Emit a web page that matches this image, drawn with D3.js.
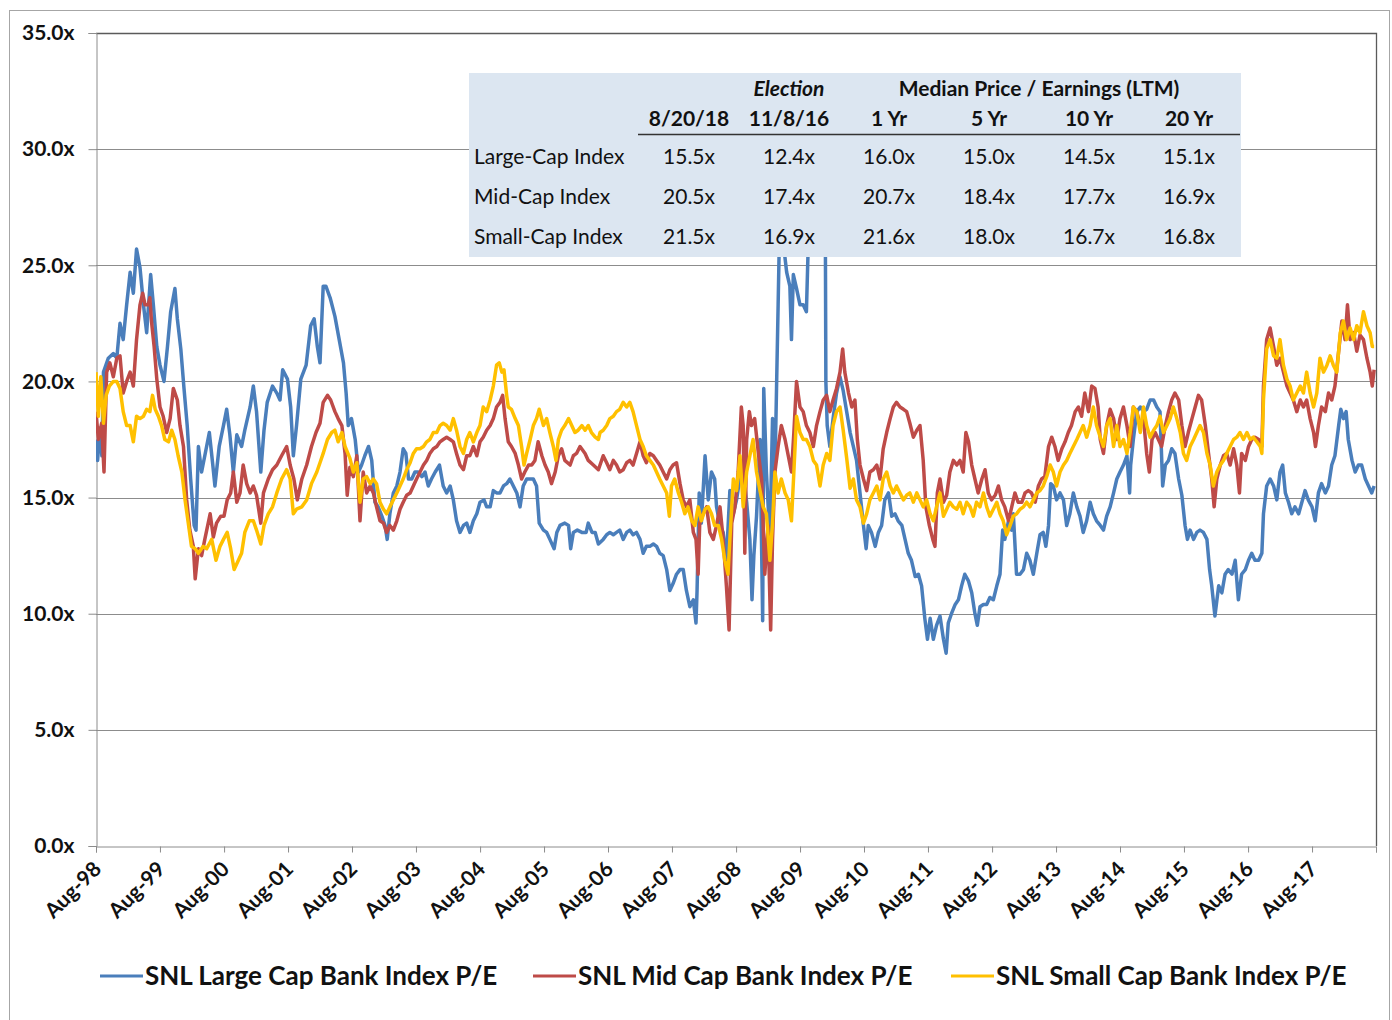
<!DOCTYPE html>
<html>
<head>
<meta charset="utf-8">
<script src="https://cdn.jsdelivr.net/npm/d3@7/dist/d3.min.js"></script>
<style>
  body { margin: 0; background: #fff; }
  svg { display: block; }
</style>
</head>
<body>
<svg id="chart" width="1392" height="1020"></svg>
<script>
// ---- Data: trailing P/E by index, as [months since Aug-1998, P/E] ----
const seriesNames = ["SNL Large Cap Bank Index P/E", "SNL Mid Cap Bank Index P/E", "SNL Small Cap Bank Index P/E"];

const largeCapPE = [[0,17.5],[0.3,16.6],[0.75,18.0],[1.1,16.8],[1.4,20.4],[2.3,21.0],[3.25,21.2],[3.9,21.0],[4.5,22.5],[5.1,21.8],[5.75,23.3],[6.4,24.7],[7.0,23.8],[7.6,25.7],[8.25,24.9],[8.9,23.3],[9.5,22.1],[10.25,24.6],[10.75,23.3],[11.4,21.5],[12.0,20.7],[12.75,20.0],[13.4,21.5],[14.0,23.0],[14.8,24.0],[15.25,22.7],[15.9,21.4],[16.5,19.7],[17.1,18.1],[17.75,15.8],[18.4,13.8],[18.75,13.6],[19.2,17.2],[19.8,16.1],[20.4,16.8],[21.25,17.8],[21.9,16.4],[22.3,15.5],[23.1,17.2],[23.9,18.1],[24.5,18.8],[25.1,17.7],[25.75,16.1],[26.4,17.7],[27.3,17.2],[27.9,17.9],[28.9,18.9],[29.5,19.8],[30.1,18.7],[30.9,16.1],[31.5,17.9],[32.1,19.1],[33.1,19.8],[33.9,19.5],[34.5,19.2],[35.0,20.5],[35.9,20.1],[36.5,18.9],[37.0,16.8],[37.6,18.1],[38.4,20.1],[39.4,20.7],[40.25,22.4],[40.9,22.7],[41.5,21.5],[42.0,20.8],[42.6,24.1],[43.1,24.1],[43.9,23.6],[44.8,22.8],[45.6,21.8],[46.4,20.8],[46.9,19.5],[47.3,18.1],[47.9,18.4],[48.6,17.5],[49.2,16.1],[49.8,16.4],[50.4,16.8],[51.1,17.2],[51.7,16.6],[52.3,14.8],[52.9,14.6],[53.6,14.2],[54.2,13.8],[54.6,13.2],[55.1,14.3],[55.75,15.2],[56.4,15.5],[57.0,16.1],[57.6,17.1],[58.1,16.9],[58.6,15.8],[59.2,15.8],[59.8,16.1],[60.4,16.1],[61.1,15.9],[61.7,16.1],[62.3,15.5],[62.9,15.8],[63.6,16.1],[64.4,16.4],[65.1,15.5],[65.75,15.2],[66.4,15.5],[67.0,14.9],[67.6,14.0],[68.25,13.5],[68.9,13.8],[69.5,13.9],[70.1,13.5],[70.75,14.0],[71.4,14.3],[72.0,14.8],[72.75,14.9],[73.25,14.6],[73.9,14.6],[74.5,15.3],[75.1,15.2],[75.75,15.2],[76.4,15.5],[77.0,15.6],[77.6,15.8],[78.25,15.5],[78.9,15.2],[79.5,14.6],[80.1,15.5],[80.75,15.8],[81.4,15.8],[82.0,15.8],[82.6,15.5],[83.1,13.9],[83.9,13.6],[84.5,13.5],[85.1,13.2],[85.9,12.8],[86.4,13.5],[87.0,13.8],[87.9,13.9],[88.6,13.8],[89.0,12.8],[89.5,13.5],[90.25,13.6],[91.1,13.5],[91.9,13.5],[92.3,13.9],[93.0,13.5],[93.6,13.5],[94.2,13.0],[95.1,13.2],[95.75,13.4],[96.35,13.5],[97.0,13.4],[97.6,13.5],[98.2,13.6],[98.85,13.2],[99.5,13.5],[100.1,13.6],[100.7,13.4],[101.35,13.5],[102.0,13.2],[102.6,12.6],[103.2,12.9],[103.85,12.9],[104.5,13.0],[105.1,12.9],[105.7,12.6],[106.35,12.5],[107.0,11.9],[107.6,11.0],[108.2,11.3],[108.85,11.7],[109.5,11.9],[110.1,11.9],[110.7,11.0],[111.35,10.3],[112.0,10.6],[112.5,9.6],[112.7,11.0],[113.1,15.2],[113.5,13.9],[114.2,16.8],[114.8,14.9],[115.4,16.1],[116.0,15.8],[116.35,14.6],[117.0,13.8],[117.6,13.5],[118.2,12.3],[118.85,15.3],[119.5,14.3],[120.1,14.9],[120.7,15.8],[121.35,16.1],[122.0,14.8],[122.6,13.2],[123.0,10.6],[123.35,12.5],[123.85,14.2],[124.5,17.5],[125.0,9.7],[125.2,19.7],[125.7,16.1],[126.35,13.2],[126.85,18.4],[127.3,16.1],[127.6,19.7],[127.9,23.3],[128.2,27.0],[128.85,26.0],[129.5,24.7],[130.1,24.1],[130.4,21.8],[130.75,24.6],[131.35,24.0],[132.0,23.3],[132.6,23.3],[133.2,23.0],[133.5,25.5],[133.85,28.0],[134.5,31.0],[135.75,32.0],[136.7,30.0],[136.85,20.0],[137.1,18.1],[137.6,17.2],[138.2,18.4],[138.85,19.5],[139.5,20.2],[140.1,19.6],[140.75,18.7],[141.4,17.8],[142.0,17.2],[142.6,16.6],[143.25,15.2],[143.9,13.8],[144.4,12.8],[144.8,13.8],[145.4,13.5],[146.1,12.9],[146.7,13.5],[147.3,13.8],[147.9,14.9],[148.6,15.2],[149.2,14.2],[149.8,14.3],[150.4,14.0],[151.1,13.8],[151.7,13.2],[152.3,12.6],[152.9,12.3],[153.6,11.6],[154.2,11.7],[154.8,11.2],[155.4,9.8],[155.9,8.9],[156.4,9.8],[157.0,8.9],[157.6,9.5],[158.25,9.9],[158.9,8.9],[159.4,8.3],[159.8,9.6],[160.4,10.0],[161.1,10.4],[161.7,10.6],[162.3,11.2],[162.9,11.7],[163.6,11.4],[164.2,10.9],[164.8,10.0],[165.25,9.5],[165.75,10.3],[166.4,10.4],[167.0,10.4],[167.6,10.7],[168.25,10.6],[168.9,11.2],[169.5,11.7],[170.0,13.6],[170.4,13.2],[171.1,14.0],[171.7,13.6],[172.0,14.3],[172.6,11.7],[173.25,11.7],[173.9,11.9],[174.5,12.6],[175.1,12.3],[175.75,11.7],[176.4,12.6],[177.0,13.4],[177.6,13.5],[178.1,12.9],[178.6,13.8],[179.0,15.6],[179.5,15.5],[180.1,14.9],[180.75,15.2],[181.4,14.9],[182.0,13.8],[182.6,14.3],[183.25,15.2],[183.9,14.6],[184.5,14.2],[185.1,13.5],[185.75,14.0],[186.4,14.8],[187.0,14.3],[187.6,14.0],[188.3,13.8],[188.9,13.6],[189.5,14.2],[190.15,14.6],[190.8,15.2],[191.4,15.8],[192.0,16.1],[192.65,16.4],[193.3,16.8],[193.8,15.2],[194.0,16.4],[194.5,17.5],[195.15,18.7],[195.8,18.9],[196.4,18.7],[197.0,18.8],[197.65,19.2],[198.3,19.2],[198.9,18.9],[199.5,18.7],[200.0,15.5],[200.5,16.4],[201.1,16.6],[201.7,17.1],[202.3,16.9],[203.0,15.8],[203.6,15.1],[204.2,13.8],[204.65,13.2],[205.15,13.6],[205.8,13.2],[206.4,13.5],[207.0,13.6],[207.65,13.5],[208.3,13.2],[208.8,11.9],[209.2,11.2],[209.8,9.9],[210.5,11.2],[211.1,10.9],[211.7,11.7],[212.3,11.9],[213.0,11.7],[213.6,12.3],[214.2,10.6],[214.8,11.7],[215.5,11.9],[216.1,12.3],[216.7,12.6],[217.3,12.3],[218.0,12.3],[218.6,12.6],[218.9,14.3],[219.5,15.5],[220.15,15.8],[220.8,15.5],[221.4,14.9],[222.0,16.1],[222.5,16.4],[223.0,15.2],[223.6,14.8],[224.2,14.3],[224.8,14.6],[225.5,14.3],[226.1,14.8],[226.7,15.3],[227.3,14.9],[228.0,14.6],[228.6,14.0],[229.2,15.2],[229.8,15.6],[230.5,15.2],[231.1,15.5],[231.7,16.4],[232.3,16.8],[233.0,18.1],[233.4,18.8],[233.9,18.4],[234.4,18.7],[234.8,17.5],[235.5,16.6],[236.1,16.1],[236.7,16.4],[237.3,16.4],[238.0,15.8],[238.6,15.5],[239.2,15.2],[239.65,15.5]];

const midCapPE = [[0,18.7],[0.44,17.5],[1.06,18.2],[1.5,16.1],[2.0,20.4],[2.6,20.8],[3.25,20.2],[3.9,21.0],[4.5,21.1],[5.1,19.5],[5.75,20.0],[6.4,20.4],[7.0,19.8],[7.6,21.8],[8.25,23.3],[8.75,23.8],[9.2,23.3],[9.8,23.3],[10.1,23.6],[10.4,22.6],[10.9,21.5],[11.4,20.1],[12.0,18.9],[12.6,18.5],[13.25,17.8],[13.9,18.4],[14.5,19.7],[15.25,19.2],[15.75,18.1],[16.4,17.2],[17.0,14.9],[17.6,13.6],[18.25,12.9],[18.6,11.5],[19.2,12.8],[19.8,12.5],[20.4,13.2],[21.4,14.3],[22.0,13.3],[22.6,13.9],[23.4,14.2],[24.0,14.2],[24.6,14.9],[25.25,15.2],[25.75,16.1],[26.4,14.8],[27.0,15.2],[27.6,16.4],[28.25,15.6],[28.9,15.2],[29.5,15.5],[30.1,15.1],[30.9,13.9],[31.4,15.2],[32.3,15.8],[33.1,16.2],[33.9,16.4],[34.8,16.8],[35.75,17.2],[36.4,16.4],[37.1,15.8],[37.75,14.9],[38.6,15.8],[39.5,16.4],[40.4,17.2],[41.25,17.8],[42.0,18.2],[42.6,19.1],[43.4,19.4],[44.0,19.2],[44.8,18.7],[45.4,18.4],[46.1,18.1],[46.7,16.9],[47.1,15.1],[47.6,16.3],[48.25,15.9],[48.9,16.8],[49.5,14.0],[50.1,16.1],[50.75,15.2],[51.4,15.5],[52.0,15.2],[52.6,14.6],[53.25,14.0],[53.9,13.9],[54.5,13.5],[55.1,13.8],[55.75,13.6],[56.4,14.0],[57.0,14.5],[57.6,14.8],[58.25,15.1],[58.9,15.2],[59.5,15.5],[60.1,15.8],[60.75,16.1],[61.4,16.4],[62.0,16.6],[62.6,16.9],[63.25,17.1],[63.9,17.2],[64.5,17.4],[65.1,17.5],[65.75,17.6],[66.4,17.5],[67.0,17.4],[67.6,16.9],[68.25,16.4],[68.9,16.2],[69.5,16.8],[70.1,16.8],[70.75,17.2],[71.4,16.8],[72.0,17.4],[72.6,17.6],[73.25,17.9],[73.9,18.1],[74.5,18.4],[75.1,18.9],[75.75,19.1],[76.25,19.4],[76.7,18.4],[77.3,17.4],[77.9,17.2],[78.6,16.9],[79.2,16.4],[79.8,15.8],[80.4,16.1],[81.1,16.4],[81.7,16.4],[82.3,16.6],[82.9,17.4],[83.6,16.8],[84.2,16.4],[84.8,16.1],[85.4,15.6],[86.1,16.1],[86.7,16.8],[87.3,17.1],[87.9,16.6],[88.9,16.4],[89.5,16.8],[90.1,16.9],[90.75,17.2],[91.7,16.9],[92.3,16.6],[93.25,16.4],[94.2,16.2],[95.1,16.8],[95.75,16.5],[96.35,16.2],[97.0,16.6],[97.6,16.4],[98.2,16.1],[98.85,16.2],[99.5,16.5],[100.1,16.6],[100.7,16.4],[101.35,16.9],[102.0,17.4],[102.6,16.8],[103.2,16.5],[103.85,16.9],[104.5,16.8],[105.1,16.6],[105.7,16.4],[106.35,16.1],[107.0,15.8],[107.6,16.2],[108.2,16.4],[108.85,16.5],[109.5,15.6],[110.1,14.9],[110.7,14.6],[111.35,14.9],[112.0,13.5],[112.5,13.2],[112.9,11.7],[113.2,13.9],[113.85,14.3],[114.5,14.6],[115.1,13.5],[115.75,13.2],[116.35,13.8],[117.0,14.6],[117.6,13.2],[118.2,11.2],[118.7,9.3],[119.2,13.9],[119.8,14.6],[120.4,16.1],[121.0,18.9],[121.35,18.1],[121.65,12.6],[122.0,17.5],[122.5,18.7],[122.9,18.1],[123.5,18.4],[124.2,16.9],[124.8,15.8],[125.4,11.7],[126.0,13.8],[126.5,9.3],[126.85,13.2],[127.3,16.1],[127.9,17.2],[128.5,18.1],[129.2,17.5],[129.8,16.8],[130.4,16.1],[130.85,17.8],[131.35,20.0],[132.0,18.9],[132.6,18.7],[133.2,18.1],[133.85,17.8],[134.5,17.2],[135.1,18.1],[135.75,18.7],[136.35,19.2],[137.0,19.4],[137.6,18.7],[138.2,19.2],[138.85,19.7],[139.5,20.4],[140.0,21.4],[140.4,20.4],[141.1,19.5],[141.7,18.9],[142.3,19.2],[142.75,17.5],[143.25,16.4],[143.9,15.8],[144.5,15.3],[145.1,16.1],[145.75,16.2],[146.4,16.4],[147.0,15.8],[147.6,17.1],[148.25,17.8],[148.9,18.4],[149.5,18.9],[150.1,19.1],[150.75,18.9],[151.4,18.8],[152.0,18.7],[152.6,18.2],[153.25,17.6],[153.9,17.9],[154.5,18.1],[155.1,16.6],[155.6,14.6],[156.25,13.8],[156.9,13.2],[157.3,12.9],[157.75,15.2],[158.25,15.8],[158.9,14.8],[159.5,15.1],[160.1,16.1],[160.75,16.6],[161.4,16.4],[162.0,16.6],[162.6,16.1],[163.1,17.8],[163.6,17.4],[164.2,16.4],[164.8,15.8],[165.4,15.2],[166.1,15.8],[166.7,16.2],[167.3,15.2],[167.9,14.9],[168.6,15.1],[169.2,15.5],[169.8,14.9],[170.4,14.6],[171.1,14.0],[171.7,14.6],[172.3,15.2],[172.9,14.8],[173.6,14.8],[174.2,15.2],[174.8,15.3],[175.4,15.2],[176.1,14.8],[176.7,15.5],[177.3,15.8],[177.9,15.9],[178.6,17.2],[179.2,17.6],[179.8,17.2],[180.4,16.6],[181.1,17.1],[181.7,17.4],[182.3,17.8],[182.9,18.1],[183.6,18.7],[184.2,18.9],[184.8,18.5],[185.4,19.5],[186.1,18.7],[186.7,19.8],[187.3,19.7],[187.9,18.9],[188.3,17.5],[188.9,16.9],[189.5,18.1],[190.15,18.8],[190.8,18.4],[191.4,17.5],[192.0,18.4],[192.65,18.9],[193.3,18.1],[193.9,17.2],[194.5,18.9],[195.15,18.7],[195.8,18.1],[196.4,18.4],[197.0,16.9],[197.5,16.1],[198.0,17.5],[198.6,17.8],[199.2,17.5],[199.8,17.2],[200.5,18.1],[201.1,18.7],[201.7,19.2],[202.3,19.5],[203.0,19.2],[203.6,18.1],[204.2,17.2],[204.8,17.8],[205.5,18.4],[206.1,18.9],[206.7,19.4],[207.3,19.2],[208.0,18.1],[208.6,16.9],[209.2,15.8],[209.65,14.6],[210.15,15.8],[210.8,16.4],[211.4,16.8],[212.0,16.9],[212.65,16.4],[213.3,17.1],[213.9,16.4],[214.4,15.2],[214.8,16.9],[215.5,16.6],[216.1,17.2],[216.7,17.5],[217.3,17.6],[218.0,17.5],[218.6,17.2],[218.9,19.8],[219.5,21.8],[220.15,22.3],[220.8,21.5],[221.4,20.7],[222.0,21.0],[222.65,20.4],[223.3,19.8],[223.9,19.5],[224.5,19.2],[225.15,18.7],[225.8,19.2],[226.4,18.9],[227.0,19.2],[227.65,18.4],[228.3,17.8],[228.65,17.2],[229.2,18.1],[229.8,18.9],[230.5,18.7],[231.1,19.5],[231.7,19.2],[232.3,19.8],[233.0,21.3],[233.6,22.6],[234.2,21.8],[234.65,23.3],[235.15,21.8],[235.8,22.1],[236.4,21.3],[237.0,22.0],[237.65,21.8],[238.3,21.0],[238.9,20.4],[239.3,19.8],[239.65,20.5]];

const smallCapPE = [[0,20.4],[0.44,18.5],[0.9,20.2],[1.4,18.2],[1.9,19.4],[2.5,19.8],[3.25,20.0],[3.9,20.0],[4.5,19.7],[5.1,18.7],[5.75,18.1],[6.4,18.1],[7.0,17.4],[7.6,18.5],[8.25,18.4],[8.9,18.5],[9.5,18.8],[10.1,18.7],[10.6,19.4],[11.1,18.8],[11.7,18.5],[12.3,18.1],[12.9,17.5],[13.6,17.4],[14.2,17.9],[14.8,17.5],[15.4,16.8],[16.1,16.1],[16.7,14.9],[17.3,13.9],[17.9,12.9],[18.6,12.8],[19.2,12.6],[20.1,12.9],[20.75,12.8],[21.7,13.2],[22.5,12.3],[23.25,12.9],[23.9,13.2],[24.6,13.5],[25.25,12.8],[25.9,11.9],[26.7,12.3],[27.3,12.6],[27.9,13.5],[28.75,14.0],[29.5,14.0],[30.1,13.6],[30.9,13.0],[31.5,13.8],[32.3,14.3],[33.1,14.6],[33.9,15.2],[34.8,15.8],[35.75,16.2],[36.4,15.8],[37.0,14.3],[37.6,14.5],[38.6,14.6],[39.5,14.9],[40.4,15.6],[41.4,16.1],[42.0,16.5],[42.6,16.9],[43.4,17.5],[44.2,17.8],[44.8,17.9],[45.4,17.4],[46.1,17.8],[46.7,17.2],[47.6,16.7],[48.25,16.1],[48.9,16.5],[49.5,14.8],[50.1,15.8],[50.75,15.9],[51.4,15.6],[52.0,15.8],[52.6,15.6],[53.25,14.8],[53.9,14.5],[54.5,14.3],[55.1,14.6],[55.75,14.9],[56.4,15.2],[57.0,15.5],[57.6,15.8],[58.25,16.2],[58.9,16.5],[59.5,16.9],[60.1,17.1],[60.75,17.1],[61.4,17.2],[62.0,17.4],[62.6,17.5],[63.25,17.8],[63.9,17.8],[64.5,18.1],[65.1,18.2],[65.75,18.1],[66.4,17.9],[67.0,18.4],[67.6,17.9],[68.25,17.2],[68.9,16.9],[69.5,17.5],[70.1,17.8],[70.75,17.4],[71.4,17.8],[72.0,18.1],[72.6,18.9],[73.25,18.7],[73.9,19.2],[74.5,19.8],[75.1,20.7],[75.6,20.8],[76.1,20.4],[76.5,20.5],[77.0,19.4],[77.3,18.9],[77.9,18.8],[78.6,18.4],[79.2,18.1],[79.8,17.2],[80.25,16.4],[80.75,16.9],[81.4,17.5],[82.0,18.1],[82.6,18.4],[83.1,18.8],[83.9,18.1],[84.5,18.4],[85.1,17.8],[85.75,17.2],[86.25,16.6],[86.7,17.5],[87.3,17.9],[87.9,18.1],[88.6,18.4],[89.2,18.1],[89.8,17.8],[90.4,17.9],[91.1,18.1],[91.7,17.9],[92.3,18.1],[92.9,17.8],[93.6,17.6],[94.2,17.5],[94.5,17.8],[95.1,17.9],[95.75,18.1],[96.35,18.4],[97.0,18.5],[97.6,18.7],[98.2,18.8],[98.85,19.1],[99.5,18.9],[100.1,19.1],[100.7,18.7],[101.35,18.1],[102.0,17.5],[102.6,17.2],[103.2,16.8],[103.85,16.6],[104.5,16.4],[105.1,16.1],[105.7,15.8],[106.35,15.5],[107.0,15.2],[107.5,14.2],[107.9,15.5],[108.5,15.8],[109.2,15.2],[109.8,14.8],[110.4,14.3],[111.0,14.6],[111.7,14.0],[112.3,13.8],[112.9,14.6],[113.5,14.0],[114.2,14.5],[114.8,14.6],[115.4,14.3],[116.0,13.8],[116.7,13.8],[117.3,13.2],[117.9,12.3],[118.5,11.7],[118.85,13.2],[119.5,15.8],[120.1,15.3],[120.75,16.8],[121.35,14.6],[122.0,16.1],[122.6,16.8],[123.2,17.5],[123.85,16.1],[124.5,15.3],[125.1,14.6],[125.7,14.3],[126.35,12.3],[126.85,13.9],[127.3,16.1],[127.9,15.2],[128.5,15.8],[129.2,15.2],[129.8,14.9],[130.4,14.0],[130.85,16.1],[131.35,18.5],[132.0,17.8],[132.6,17.5],[133.2,17.5],[133.85,17.2],[134.5,16.6],[135.1,16.4],[135.75,15.5],[136.35,16.4],[137.0,16.9],[137.6,16.6],[138.2,18.1],[138.85,18.7],[139.5,18.9],[140.1,17.9],[140.75,16.7],[141.4,15.4],[142.0,15.8],[142.6,14.9],[143.25,14.6],[143.9,13.9],[144.5,14.3],[145.1,14.9],[145.75,15.2],[146.4,15.5],[147.0,14.9],[147.6,15.8],[148.25,16.1],[148.9,15.5],[149.5,15.2],[150.1,15.5],[150.75,15.2],[151.4,14.9],[152.0,15.1],[152.6,15.2],[153.25,14.8],[153.9,15.2],[154.5,14.9],[155.1,14.6],[155.75,14.9],[156.4,14.3],[157.0,14.0],[157.6,14.6],[158.25,15.2],[158.9,14.2],[159.5,14.5],[160.1,14.8],[160.75,14.6],[161.4,14.5],[162.0,14.8],[162.6,14.3],[163.25,14.8],[163.9,14.6],[164.5,14.2],[165.1,14.8],[165.75,14.6],[166.4,15.2],[167.0,14.6],[167.6,14.2],[168.25,14.5],[168.9,14.8],[169.5,14.3],[170.1,14.0],[170.75,13.4],[171.4,13.8],[172.0,14.2],[172.6,14.3],[173.25,14.5],[173.9,14.6],[174.5,14.8],[175.1,14.6],[175.75,14.9],[176.4,15.2],[177.0,15.3],[177.6,15.5],[178.25,15.9],[178.9,16.4],[179.5,16.1],[180.1,15.5],[180.75,16.1],[181.4,16.4],[182.0,16.6],[182.6,16.9],[183.25,17.2],[183.9,17.5],[184.5,17.8],[185.1,18.1],[185.75,17.6],[186.4,18.1],[187.0,18.9],[187.6,18.1],[188.3,17.6],[188.9,17.2],[189.5,18.1],[190.15,18.4],[190.8,17.2],[191.4,18.1],[192.0,17.2],[192.65,17.5],[193.3,16.9],[193.9,17.8],[194.5,18.9],[195.15,18.7],[195.8,17.8],[196.4,18.9],[197.0,18.1],[197.65,17.6],[198.3,17.9],[198.9,18.1],[199.5,18.5],[200.15,17.8],[200.8,18.1],[201.4,18.4],[202.0,18.9],[202.65,18.4],[203.3,17.8],[203.9,16.9],[204.5,16.6],[205.15,17.2],[205.8,17.5],[206.4,17.8],[207.0,18.1],[207.65,17.8],[208.3,16.9],[208.9,16.4],[209.5,15.5],[210.15,16.1],[210.8,16.4],[211.4,16.6],[212.0,16.9],[212.65,17.2],[213.3,17.5],[213.9,17.6],[214.5,17.8],[215.15,17.5],[215.8,17.8],[216.4,17.5],[217.0,17.6],[217.65,17.4],[218.3,17.2],[218.6,16.9],[218.9,19.2],[219.5,21.4],[220.15,21.8],[220.8,21.1],[221.4,21.0],[222.0,21.8],[222.65,20.7],[223.3,20.1],[223.9,19.8],[224.5,19.2],[225.15,19.5],[225.8,19.8],[226.4,19.5],[227.0,20.4],[227.65,19.5],[228.3,18.9],[228.9,19.5],[229.5,21.0],[230.15,20.4],[230.8,20.7],[231.4,21.1],[232.0,20.7],[232.65,20.4],[233.3,22.1],[233.9,22.6],[234.5,21.8],[235.15,22.3],[235.8,21.8],[236.4,22.4],[237.0,22.1],[237.65,23.0],[238.3,22.4],[238.9,22.1],[239.3,21.5],[239.65,21.5]];

const yTickValues = [0, 5, 10, 15, 20, 25, 30, 35];

// Summary table
const tableGroupHeaders = [{ text: "Election", col: 1, italic: true }, { text: "Median Price / Earnings (LTM)", col: 3.5, italic: false }];
const tableColumns = ["8/20/18", "11/8/16", "1 Yr", "5 Yr", "10 Yr", "20 Yr"];
const tableRows = ["Large-Cap Index", "Mid-Cap Index", "Small-Cap Index"];
const tableValues = [
  [15.5, 12.4, 16.0, 15.0, 14.5, 15.1],
  [20.5, 17.4, 20.7, 18.4, 17.7, 16.9],
  [21.5, 16.9, 21.6, 18.0, 16.7, 16.8]
];

// ---- Layout ----
const plot = { left: 96, right: 1376, top: 33, bottom: 846 };
const colors = ["#4a7ebb", "#be4b48", "#ffc000"];
const font = "Lato, 'Open Sans', sans-serif";

const svg = d3.select("#chart");
const startDate = new Date(1998, 7, 1);
const toDate = m => d3.timeHour.offset(startDate, Math.round(m * 30.4375 * 24));

const x = d3.scaleTime().domain([startDate, new Date(2018, 7, 1)]).range([plot.left, plot.right]);
const y = d3.scaleLinear().domain([0, 35]).range([plot.bottom, plot.top]);

// outer frame
svg.append("rect").attr("x", 9.5).attr("y", 10.5).attr("width", 1380).attr("height", 1030)
  .attr("fill", "#fff").attr("stroke", "#a6a6a6").attr("stroke-width", 1);

// horizontal gridlines
svg.append("g").selectAll("line").data(yTickValues.filter(v => v > 0 && v < 35)).join("line")
  .attr("x1", plot.left).attr("x2", plot.right)
  .attr("y1", d => Math.round(y(d)) + 0.5).attr("y2", d => Math.round(y(d)) + 0.5)
  .attr("stroke", "#8c8c8c").attr("stroke-width", 1);

// plot frame (top & right)
svg.append("path")
  .attr("d", `M${plot.left},${Math.round(y(35)) + 0.5}H${plot.right + 0.5}V${plot.bottom}`)
  .attr("fill", "none").attr("stroke", "#5a5a5a").attr("stroke-width", 1.3);

// y axis
const yAxis = svg.append("g").attr("transform", `translate(${plot.left + 0.5},0)`)
  .call(d3.axisLeft(y).tickValues(yTickValues).tickSize(8)
    .tickFormat(d => d3.format(".1f")(d) + "x"));
yAxis.select(".domain").attr("stroke", "#8c8c8c");
yAxis.selectAll(".tick line").attr("stroke", "#8c8c8c");
yAxis.selectAll(".tick text").attr("font-family", font).attr("font-weight", 700)
  .attr("font-size", 21).attr("fill", "#111").attr("x", -22);

// x axis
const xTicks = d3.range(0, 20).map(i => d3.timeYear.offset(startDate, i));
const xAxis = svg.append("g").attr("transform", `translate(0,${plot.bottom + 0.5})`)
  .call(d3.axisBottom(x).tickValues(xTicks.concat([new Date(2018, 7, 1)])).tickSize(6)
    .tickFormat((d, i) => i < 20 ? d3.timeFormat("%b-%y")(d) : ""));
xAxis.select(".domain").attr("stroke", "#8c8c8c");
xAxis.selectAll(".tick line").attr("stroke", "#8c8c8c");
xAxis.selectAll(".tick text")
  .attr("font-family", font).attr("font-weight", 700).attr("font-size", 21).attr("fill", "#111")
  .attr("text-anchor", "end").attr("dy", 0).attr("y", 0)
  .attr("transform", "translate(6,24) rotate(-45)");

// series lines
svg.append("clipPath").attr("id", "plotClip").append("rect")
  .attr("x", plot.left).attr("y", plot.top).attr("width", plot.right - plot.left).attr("height", plot.bottom - plot.top);

const line = d3.line().x(d => x(toDate(d[0]))).y(d => y(d[1]));
const allSeries = [largeCapPE, midCapPE, smallCapPE];
svg.append("g").attr("clip-path", "url(#plotClip)")
  .selectAll("path").data(allSeries).join("path")
  .attr("d", line).attr("fill", "none")
  .attr("stroke", (d, i) => colors[i]).attr("stroke-width", 3.5)
  .attr("stroke-linejoin", "round");

// summary table
const table = { left: 469, right: 1241, top: 73, bottom: 257, labelX: 474, firstCol: 689, colStep: 100 };
const tFont = 21;
const tg = svg.append("g");
tg.append("rect").attr("x", table.left).attr("y", table.top)
  .attr("width", table.right - table.left).attr("height", table.bottom - table.top).attr("fill", "#dce6f1");
const colX = i => table.firstCol + i * table.colStep;
tg.selectAll("text.grp").data(tableGroupHeaders).join("text")
  .attr("x", d => colX(d.col)).attr("y", 96).attr("text-anchor", "middle")
  .attr("font-family", font).attr("font-size", tFont).attr("font-weight", 700)
  .attr("font-style", d => d.italic ? "italic" : "normal").attr("fill", "#111").text(d => d.text);
tg.selectAll("text.col").data(tableColumns).join("text")
  .attr("x", (d, i) => colX(i)).attr("y", 126).attr("text-anchor", "middle")
  .attr("font-family", font).attr("font-size", tFont).attr("font-weight", 700).attr("fill", "#111").text(d => d);
tg.append("line").attr("x1", 638).attr("x2", 1240).attr("y1", 134.5).attr("y2", 134.5)
  .attr("stroke", "#333").attr("stroke-width", 1.5);
const rowY = i => 164 + i * 40;
tg.selectAll("text.row").data(tableRows).join("text")
  .attr("x", table.labelX).attr("y", (d, i) => rowY(i))
  .attr("font-family", font).attr("font-size", tFont).attr("fill", "#111").text(d => d);
tableValues.forEach((row, r) => {
  tg.selectAll(null).data(row).join("text")
    .attr("x", (d, i) => colX(i)).attr("y", rowY(r)).attr("text-anchor", "middle")
    .attr("font-family", font).attr("font-size", tFont).attr("fill", "#111")
    .text(d => d3.format(".1f")(d) + "x");
});

// legend
const legendItems = [{ x: 100 }, { x: 533 }, { x: 951 }];
const lg = svg.append("g");
legendItems.forEach((item, i) => {
  lg.append("line").attr("x1", item.x).attr("x2", item.x + 43).attr("y1", 976).attr("y2", 976)
    .attr("stroke", colors[i]).attr("stroke-width", 3);
  lg.append("text").attr("x", item.x + 45).attr("y", 985)
    .attr("font-family", font).attr("font-weight", 700).attr("font-size", 26).attr("fill", "#111")
    .text(seriesNames[i]);
});
</script>
</body>
</html>
